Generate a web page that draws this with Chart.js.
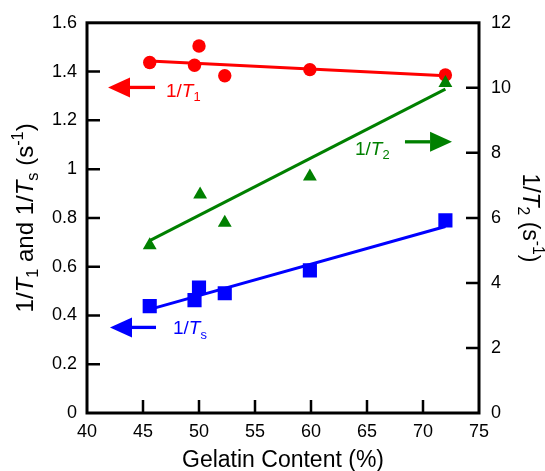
<!DOCTYPE html>
<html>
<head>
<meta charset="utf-8">
<script src="https://cdn.jsdelivr.net/npm/chart.js@4.4.0/dist/chart.umd.min.js"></script>
<style>
  html, body { margin: 0; padding: 0; background: #fff; }
  #wrap { position: relative; width: 545px; height: 471px; }
</style>
</head>
<body>
<div id="wrap"><canvas id="relaxChart"></canvas></div>
<script>
(function() {
    "use strict"

    // values
    const gelatin = [45.6, 49.6, 50.0, 52.3, 59.9, 72.0]
    const rateT1 = [1.437, 1.426, 1.505, 1.383, 1.408, 1.386]
    const rateTs = [0.438, 0.463, 0.514, 0.491, 0.585, 0.790]
    const gelatinT2 = [45.6, 50.1, 52.3, 59.9, 72.0]
    const rateT2 = [5.16, 6.72, 5.85, 7.27, 10.15]

    // straight fit lines (end points)
    const fitX = [45.6, 72.0]
    const fitT1 = [1.443, 1.383]
    const fitTs = [0.425, 0.765]
    const fitT2 = [5.30, 9.96]

    const xTicks = [40, 45, 50, 55, 60, 65, 70, 75]
    const leftTicks = [0, 0.2, 0.4, 0.6, 0.8, 1, 1.2, 1.4, 1.6]
    const rightTicks = [0, 2, 4, 6, 8, 10, 12]

    const RED = '#ff0000', GREEN = '#008000', BLUE = '#0000ff'
    const FONT = '"Liberation Sans", Arial, Helvetica, sans-serif'
    const TICK = 13

    const pts = (xs, ys) => xs.map((x, i) => ({ x: x, y: ys[i] }))

    // rich text: [text, kind] kind n=normal i=italic s=subscript p=superscript
    const partFont = (kind, size) => {
        const sz = (kind === 's' || kind === 'p') ? size * 0.68 : size
        return (kind === 'i' ? 'italic ' : '') + sz + 'px ' + FONT
    }
    const measureRich = (ctx, parts, size) => parts.reduce((w, p) => {
        ctx.font = partFont(p[1], size)
        return w + ctx.measureText(p[0]).width
    }, 0)
    const drawRich = (ctx, parts, size, x, y) => {
        let cx = x
        parts.forEach(p => {
            ctx.font = partFont(p[1], size)
            let dy = 0
            if (p[1] === 's') dy = size * 0.22
            if (p[1] === 'p') dy = -size * 0.42
            ctx.fillText(p[0], cx, y + dy)
            cx += ctx.measureText(p[0]).width
        })
    }

    const drawArrow = (ctx, xTail, xBase, xTip, y, color) => {
        ctx.strokeStyle = color
        ctx.fillStyle = color
        ctx.lineWidth = 3.3
        ctx.beginPath()
        ctx.moveTo(xTail, y)
        ctx.lineTo(xBase, y)
        ctx.stroke()
        ctx.beginPath()
        ctx.moveTo(xTip, y)
        ctx.lineTo(xBase, y - 10)
        ctx.lineTo(xBase, y + 10)
        ctx.closePath()
        ctx.fill()
    }

    const chartDecor = {
        id: 'chartDecor',
        afterDraw(chart) {
            const { ctx, chartArea: a, scales } = chart
            const sx = scales.x, sy = scales.y, sy2 = scales.y2
            ctx.save()

            // frame + inward ticks
            ctx.strokeStyle = '#000'
            ctx.lineWidth = 3
            ctx.strokeRect(a.left, a.top, a.right - a.left, a.bottom - a.top)
            ctx.lineWidth = 2.5
            ctx.beginPath()
            sx.ticks.forEach(t => {
                const px = sx.getPixelForValue(t.value)
                if (px > a.left + 2 && px < a.right - 2) { ctx.moveTo(px, a.bottom); ctx.lineTo(px, a.bottom - TICK) }
            })
            sy.ticks.forEach(t => {
                const py = sy.getPixelForValue(t.value)
                if (py > a.top + 2 && py < a.bottom - 2) { ctx.moveTo(a.left, py); ctx.lineTo(a.left + TICK, py) }
            })
            sy2.ticks.forEach(t => {
                const py = sy2.getPixelForValue(t.value)
                if (py > a.top + 2 && py < a.bottom - 2) { ctx.moveTo(a.right, py); ctx.lineTo(a.right - TICK, py) }
            })
            ctx.stroke()

            // arrows and series labels
            ctx.textBaseline = 'alphabetic'
            ctx.textAlign = 'left'
            drawArrow(ctx, sx.getPixelForValue(46.07), sx.getPixelForValue(43.84), sx.getPixelForValue(41.88), sy.getPixelForValue(1.335), RED)
            drawRich(ctx, [['1/', 'n'], ['T', 'i'], ['1', 's']], 19, sx.getPixelForValue(47.05), sy.getPixelForValue(1.295))

            drawArrow(ctx, sx.getPixelForValue(46.16), sx.getPixelForValue(44.02), sx.getPixelForValue(42.05), sy.getPixelForValue(0.351), BLUE)
            drawRich(ctx, [['1/', 'n'], ['T', 'i'], ['s', 's']], 19, sx.getPixelForValue(47.68), sy.getPixelForValue(0.322))

            drawArrow(ctx, sx.getPixelForValue(68.39), sx.getPixelForValue(70.63), sx.getPixelForValue(72.59), sy2.getPixelForValue(8.34), GREEN)
            drawRich(ctx, [['1/', 'n'], ['T', 'i'], ['2', 's']], 19, sx.getPixelForValue(63.93), sy2.getPixelForValue(7.94))

            // axis titles
            ctx.fillStyle = '#000'
            const midY = (a.top + a.bottom) / 2
            const leftTitle = [['1/', 'n'], ['T', 'i'], ['1', 's'], [' and 1/', 'n'], ['T', 'i'], ['s', 's'], [' (s', 'n'], ['-1', 'p'], [')', 'n']]
            const lw = measureRich(ctx, leftTitle, 24)
            ctx.save()
            ctx.translate(33, midY)
            ctx.rotate(-Math.PI / 2)
            drawRich(ctx, leftTitle, 24, -lw / 2, 0)
            ctx.restore()

            const rightTitle = [['1/', 'n'], ['T', 'i'], ['2', 's'], [' (s', 'n'], ['-1', 'p'], [')', 'n']]
            const rw = measureRich(ctx, rightTitle, 23)
            ctx.save()
            ctx.translate(523, midY)
            ctx.rotate(Math.PI / 2)
            drawRich(ctx, rightTitle, 23, -rw / 2, 0)
            ctx.restore()

            ctx.font = '23px ' + FONT
            ctx.textAlign = 'center'
            ctx.fillText('Gelatin Content (%)', (a.left + a.right) / 2, 467)

            ctx.restore()
        }
    }

    const tickFmt = v => String(+Number(v).toFixed(1))

    new Chart(document.getElementById('relaxChart'), {
        type: 'scatter',
        data: {
            datasets: [
                { data: pts(gelatinT2, rateT2), yAxisID: 'y2', pointStyle: 'triangle', pointRadius: 8,
                  pointBackgroundColor: GREEN, pointBorderWidth: 0, showLine: false },
                { data: pts(gelatin, rateT1), yAxisID: 'y', pointStyle: 'circle', pointRadius: 6.7,
                  pointBackgroundColor: RED, pointBorderWidth: 0, showLine: false },
                { data: pts(gelatin, rateTs), yAxisID: 'y', pointStyle: 'rect', pointRadius: 10,
                  pointBackgroundColor: BLUE, pointBorderWidth: 0, showLine: false },
                { data: pts(fitX, fitT1), yAxisID: 'y', showLine: true, borderColor: RED, borderWidth: 3, pointRadius: 0 },
                { data: pts(fitX, fitT2), yAxisID: 'y2', showLine: true, borderColor: GREEN, borderWidth: 3, pointRadius: 0 },
                { data: pts(fitX, fitTs), yAxisID: 'y', showLine: true, borderColor: BLUE, borderWidth: 3, pointRadius: 0 }
            ]
        },
        options: {
            responsive: true,
            maintainAspectRatio: false,
            animation: false,
            layout: { padding: { top: 20, left: 0, right: 0, bottom: 0 } },
            plugins: { legend: { display: false }, tooltip: { enabled: false } },
            scales: {
                x: {
                    type: 'linear', min: 40, max: 75,
                    afterBuildTicks: s => { s.ticks = xTicks.map(v => ({ value: v })) },
                    afterFit: s => { s.height = 58 },
                    grid: { display: false, drawTicks: false },
                    border: { display: false },
                    ticks: { color: '#000', padding: 8, font: { size: 18, family: FONT }, maxRotation: 0 }
                },
                y: {
                    type: 'linear', position: 'left', min: 0, max: 1.6,
                    afterBuildTicks: s => { s.ticks = leftTicks.map(v => ({ value: v })) },
                    afterFit: s => { s.width = 87 },
                    grid: { display: false, drawTicks: false },
                    border: { display: false },
                    ticks: { color: '#000', padding: 10, font: { size: 18, family: FONT }, callback: tickFmt }
                },
                y2: {
                    type: 'linear', position: 'right', min: 0, max: 12,
                    afterBuildTicks: s => { s.ticks = rightTicks.map(v => ({ value: v })) },
                    afterFit: s => { s.width = 66 },
                    grid: { display: false, drawTicks: false },
                    border: { display: false },
                    ticks: { color: '#000', padding: 12, font: { size: 18, family: FONT }, callback: tickFmt }
                }
            }
        },
        plugins: [chartDecor]
    })
})()
</script>
</body>
</html>
